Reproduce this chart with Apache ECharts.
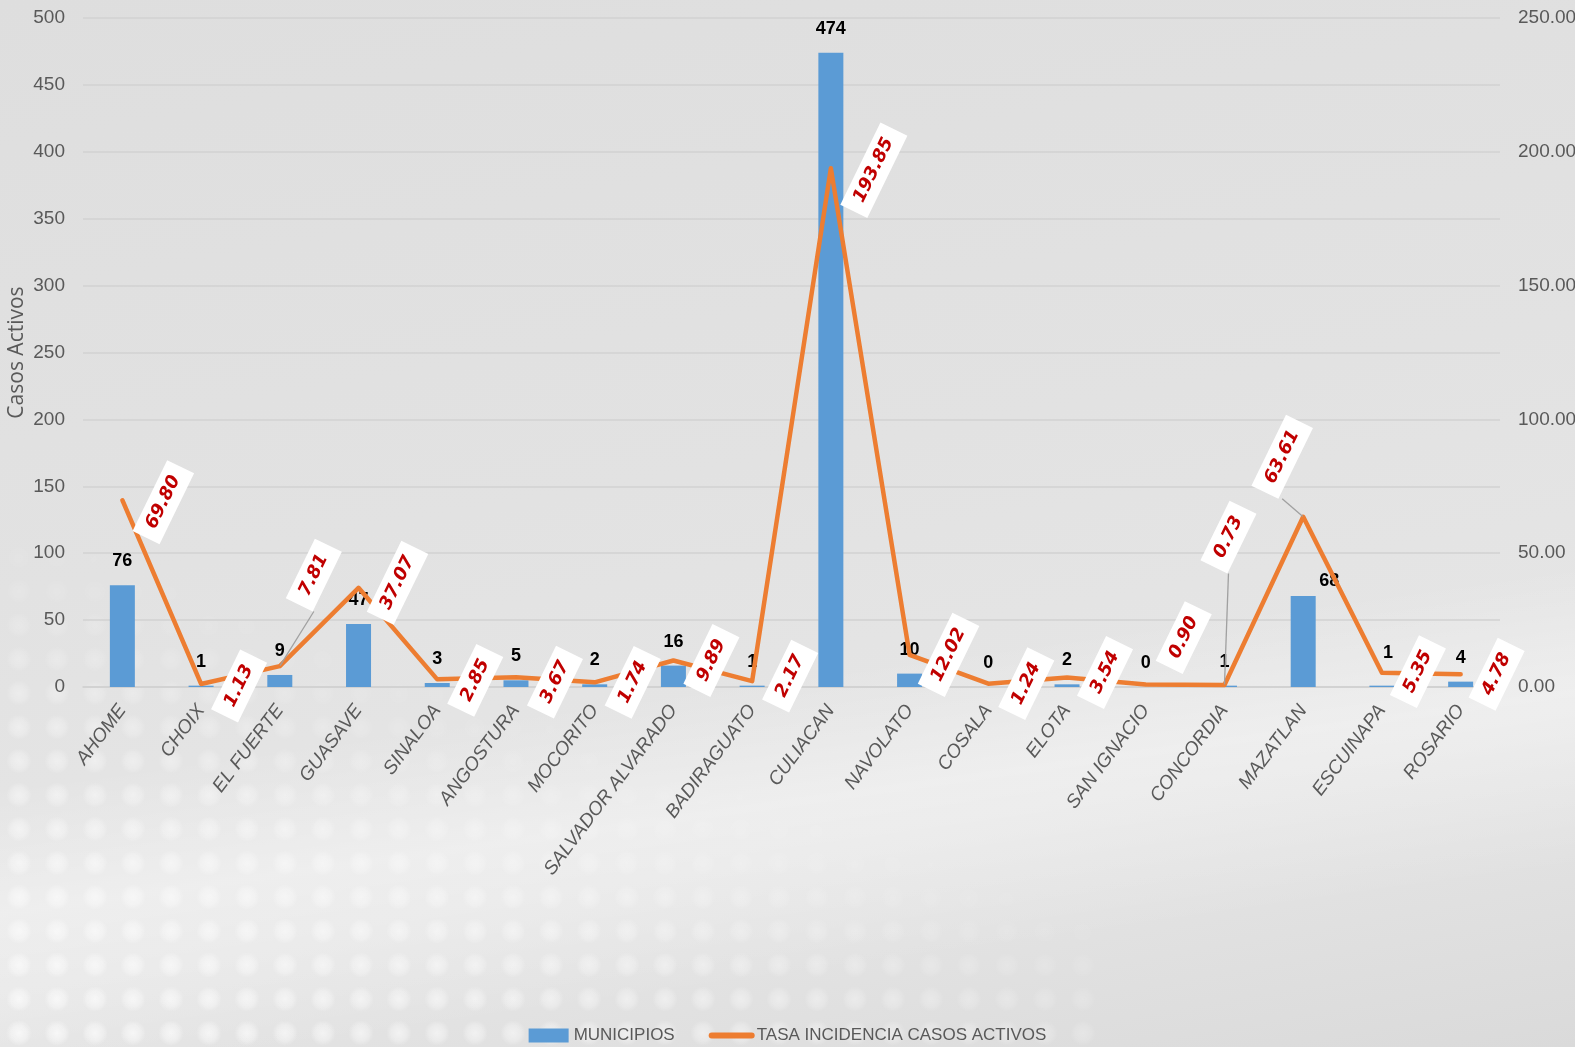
<!DOCTYPE html>
<html>
<head>
<meta charset="utf-8">
<script src="https://cdn.jsdelivr.net/npm/echarts@6/dist/echarts.min.js"></script>
<style>
html,body{margin:0;padding:0;width:1575px;height:1047px;overflow:hidden;}
#bg{position:absolute;left:0;top:0;width:1575px;height:1047px;
 background:linear-gradient(170deg,#dedede 0%,#e2e2e2 45%,#e6e6e6 75%,#dadada 100%);}
#dots{position:absolute;left:0;top:540px;width:1100px;height:507px;
 background-image:radial-gradient(circle,rgba(255,255,255,0.7) 0px,rgba(255,255,255,0.4) 8px,rgba(255,255,255,0) 13px);
 background-size:38px 34px;
 -webkit-mask-image:linear-gradient(20deg,rgba(0,0,0,1) 0%,rgba(0,0,0,0.6) 35%,rgba(0,0,0,0) 60%);
 mask-image:linear-gradient(20deg,rgba(0,0,0,1) 0%,rgba(0,0,0,0.6) 35%,rgba(0,0,0,0) 60%);}
#band{position:absolute;left:0;top:0;width:1575px;height:1047px;
 background:linear-gradient(172deg,rgba(255,255,255,0) 62%,rgba(255,255,255,0.35) 72%,rgba(255,255,255,0) 86%);}
#chart{position:absolute;left:0;top:0;width:1575px;height:1047px;}
</style>
</head>
<body>
<div id="bg"></div>
<div id="dots"></div>
<div id="band"></div>
<div id="chart"></div>
<script>
const categories = ['AHOME','CHOIX','EL FUERTE','GUASAVE','SINALOA','ANGOSTURA','MOCORITO','SALVADOR ALVARADO','BADIRAGUATO','CULIACAN','NAVOLATO','COSALA','ELOTA','SAN IGNACIO','CONCORDIA','MAZATLAN','ESCUINAPA','ROSARIO'];
const municipios = [76,1,9,47,3,5,2,16,1,474,10,0,2,0,1,68,1,4];
const tasa = [69.80,1.13,7.81,37.07,2.85,3.67,1.74,9.89,2.17,193.85,12.02,1.24,3.54,0.90,0.73,63.61,5.35,4.78];
const leftTicks = {min:0,max:500,interval:50};
const rightTicks = {min:0,max:250,interval:50};

// label placement (screen pixel shifts), kept separate from data
const lineLabelShift = [[41,2],[38,2],[34,-91],[39,-5],[38,1],[39,5],[38,0],[38,0],[38,-5],[43,2],[39,0],[38,0],[38,-5],[38,-47],[4,-148],[-21,-60],[36,-1],[36,0]];
const lineLabelLeader = [2,14,15];
const barLabelShift = {15:[26,9],16:[6,-9]};
const LABEL_ROT = 64;

const sans = "'Liberation Sans',Arial,sans-serif";
const chart = echarts.init(document.getElementById('chart'), null, {renderer:'canvas'});

const barData = municipios.map((v,i)=>{
  const it = {value:v};
  if (barLabelShift[i]) it.label = {offset:barLabelShift[i]};
  return it;
});
const lineData = tasa.map((v,i)=>{
  const it = {value:v};
  if (lineLabelLeader.indexOf(i) >= 0) it.labelLine = {show:true, lineStyle:{color:'#a0a0a0', width:1.3}};
  return it;
});

const th = LABEL_ROT*Math.PI/180;
chart.setOption({
  backgroundColor:'transparent',
  animation:false,
  grid:{left:83,right:75,top:18,bottom:360,containLabel:false,outerBoundsMode:'none'},
  legend:{
    bottom:-2,left:'center',itemWidth:40,itemHeight:14,itemGap:34,
    textStyle:{fontFamily:sans,fontSize:17,color:'#595959'},
    data:[{name:'MUNICIPIOS',icon:'rect'},
          {name:'TASA INCIDENCIA CASOS ACTIVOS',itemStyle:{opacity:0},lineStyle:{width:6,cap:'round',color:'#ED7D31'}}]
  },
  xAxis:{
    type:'category',data:categories,
    axisLine:{show:true,lineStyle:{color:'#d0d0d0',width:1.5}},
    axisTick:{show:false},
    axisLabel:{rotate:53,interval:0,margin:20,fontFamily:sans,fontStyle:'italic',fontSize:19,color:'#595959'}
  },
  yAxis:[{
    type:'value',min:leftTicks.min,max:leftTicks.max,interval:leftTicks.interval,
    name:'Casos Activos',nameLocation:'middle',nameGap:55,nameMoveOverlap:false,
    nameTextStyle:{fontFamily:"'Open Sans',sans-serif",fontSize:21,color:'#595959'},
    axisLine:{show:false},axisTick:{show:false},
    axisLabel:{margin:18,fontFamily:sans,fontSize:19,color:'#595959'},
    splitLine:{lineStyle:{color:'#d2d2d2',width:1.5}}
  },{
    type:'value',min:rightTicks.min,max:rightTicks.max,interval:rightTicks.interval,
    axisLine:{show:false},axisTick:{show:false},
    axisLabel:{margin:18,fontFamily:sans,fontSize:19,color:'#595959',formatter:v=>v.toFixed(2)},
    splitLine:{show:false}
  }],
  series:[{
    name:'MUNICIPIOS',type:'bar',yAxisIndex:0,data:barData,barWidth:25,
    itemStyle:{color:'#5B9BD5'},
    label:{show:true,position:'top',distance:15,fontFamily:sans,fontWeight:'bold',fontSize:18,color:'#000'}
  },{
    name:'TASA INCIDENCIA CASOS ACTIVOS',type:'line',yAxisIndex:1,data:lineData,
    symbol:'circle',symbolSize:1,showSymbol:true,
    itemStyle:{color:'#ED7D31'},
    lineStyle:{color:'#ED7D31',width:4.5,cap:'round',join:'round'},
    label:{show:true,position:'inside',align:'center',verticalAlign:'middle',rotate:LABEL_ROT,
      formatter:p=>p.value.toFixed(2),
      fontFamily:"'DejaVu Sans',sans-serif",fontWeight:'bold',fontStyle:'italic',fontSize:18,color:'#C00000',
      backgroundColor:'#ffffff',padding:[6,11]},
    labelLine:{show:false},
    labelLayout:function(p){
      const s=lineLabelShift[p.dataIndex];
      const X=s[0], Y=s[1];
      return {dx: X*Math.cos(th) - Y*Math.sin(th), dy: X*Math.sin(th) + Y*Math.cos(th)};
    }
  }]
});
</script>
</body>
</html>
